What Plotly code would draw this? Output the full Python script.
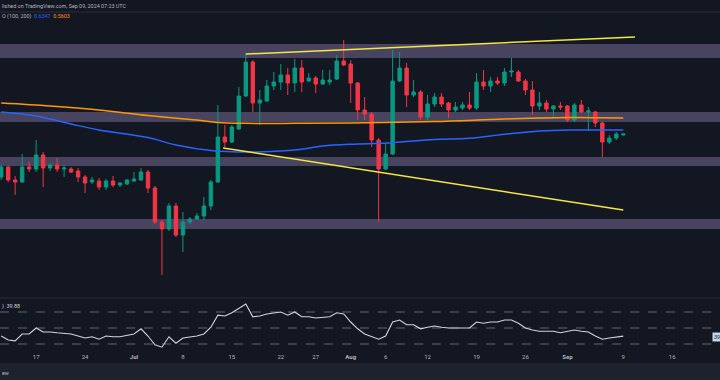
import plotly.graph_objects as go
import pandas as pd

# ---------------- data ----------------
dates = pd.date_range("2024-06-12", "2024-09-09", freq="D")

open_ = [0.4952, 0.5072, 0.4916, 0.4892, 0.5072, 0.5048, 0.5216, 0.5060, 0.5096, 0.5048,
         0.5048, 0.5024, 0.4952, 0.4892, 0.4904, 0.4832, 0.4904, 0.4856, 0.4868,
         0.4904, 0.4916, 0.5012, 0.4820, 0.4412, 0.4328, 0.4604, 0.4256, 0.4412, 0.4448,
         0.4484, 0.4604, 0.4892, 0.5432, 0.5372, 0.5528, 0.5924, 0.6332, 0.5840, 0.5864,
         0.6044, 0.6092, 0.6176, 0.6080, 0.6260, 0.6104, 0.6140, 0.6068, 0.6092, 0.6128, 0.6344,
         0.6308, 0.6080, 0.5756, 0.5708, 0.5396, 0.5048, 0.5228, 0.6104, 0.6260, 0.5936,
         0.5972, 0.5672, 0.5828, 0.5912, 0.5840, 0.5756, 0.5780, 0.5816, 0.5780, 0.6092,
         0.6044, 0.6104, 0.6080, 0.6212, 0.6212, 0.6104, 0.5996, 0.5804, 0.5840, 0.5768, 0.5804,
         0.5804, 0.5636, 0.5816, 0.5732, 0.5732, 0.5600, 0.5372, 0.5420, 0.5456]

high = [0.5096, 0.5084, 0.4964, 0.5228, 0.5132, 0.5396, 0.5252, 0.5120, 0.5180, 0.5096,
        0.5072, 0.5060, 0.4976, 0.4952, 0.4940, 0.4928, 0.4964, 0.4892, 0.4928,
        0.5012, 0.5060, 0.5036, 0.4844, 0.4436, 0.4640, 0.4640, 0.4532, 0.4472, 0.4520,
        0.4712, 0.4916, 0.5816, 0.5576, 0.5576, 0.6032, 0.6440, 0.6356, 0.5996, 0.6116,
        0.6212, 0.6308, 0.6260, 0.6368, 0.6356, 0.6200, 0.6164, 0.6236, 0.6236, 0.6416, 0.6596,
        0.6356, 0.6092, 0.5912, 0.5732, 0.5420, 0.5360, 0.6476, 0.6452, 0.6320, 0.6116,
        0.5996, 0.5936, 0.5960, 0.5960, 0.5852, 0.5852, 0.5852, 0.5972, 0.6200, 0.6236,
        0.6152, 0.6152, 0.6260, 0.6380, 0.6236, 0.6128, 0.6104, 0.5972, 0.5876, 0.5816, 0.5852,
        0.5816, 0.5840, 0.5876, 0.5792, 0.5744, 0.5612, 0.5456, 0.5492, 0.5468]

low = [0.4916, 0.4892, 0.4736, 0.4880, 0.5012, 0.5012, 0.4832, 0.5024, 0.5012, 0.4952,
       0.5000, 0.4892, 0.4760, 0.4868, 0.4796, 0.4796, 0.4832, 0.4832, 0.4856,
       0.4892, 0.4904, 0.4760, 0.4388, 0.3776, 0.4304, 0.4232, 0.4052, 0.4388, 0.4436,
       0.4436, 0.4556, 0.4880, 0.5312, 0.5360, 0.5516, 0.5912, 0.5732, 0.5576, 0.5852,
       0.5996, 0.5996, 0.5936, 0.5972, 0.5972, 0.6092, 0.5960, 0.6056, 0.6056, 0.6116, 0.6284,
       0.5840, 0.5636, 0.5636, 0.5312, 0.4412, 0.5036, 0.5216, 0.6092, 0.5792, 0.5912,
       0.5636, 0.5636, 0.5792, 0.5792, 0.5660, 0.5732, 0.5756, 0.5756, 0.5756, 0.5996,
       0.5972, 0.6056, 0.6044, 0.6152, 0.6092, 0.5936, 0.5696, 0.5756, 0.5732, 0.5660, 0.5756,
       0.5612, 0.5612, 0.5720, 0.5504, 0.5552, 0.5192, 0.5348, 0.5396, 0.5450]

close = [0.5072, 0.4916, 0.4892, 0.5072, 0.5048, 0.5216, 0.5060, 0.5096, 0.5048, 0.5060,
         0.5012, 0.4952, 0.4880, 0.4916, 0.4832, 0.4904, 0.4856, 0.4880, 0.4916,
         0.4928, 0.5012, 0.4820, 0.4412, 0.4328, 0.4604, 0.4256, 0.4412, 0.4448, 0.4484,
         0.4604, 0.4892, 0.5432, 0.5372, 0.5552, 0.5924, 0.6332, 0.5840, 0.5876, 0.6044,
         0.6092, 0.6176, 0.6080, 0.6260, 0.6092, 0.6140, 0.6068, 0.6116, 0.6116, 0.6344, 0.6296,
         0.6080, 0.5756, 0.5708, 0.5396, 0.5048, 0.5228, 0.6104, 0.6260, 0.5936, 0.5972,
         0.5672, 0.5828, 0.5912, 0.5828, 0.5756, 0.5792, 0.5816, 0.5780, 0.6092, 0.6044,
         0.6104, 0.6080, 0.6212, 0.6224, 0.6104, 0.5996, 0.5804, 0.5840, 0.5768, 0.5804, 0.5792,
         0.5636, 0.5816, 0.5732, 0.5744, 0.5600, 0.5372, 0.5420, 0.5468, 0.5468]

rsi = [40, 35, 34, 42.5, 42.5, 50, 45, 45, 44, 43, 42.5, 40, 37.5, 39, 36, 40, 39, 39, 41,
       42.5, 49, 40, 29, 26, 39, 31, 37.5, 39, 40, 42.5, 51, 66, 65, 69, 74, 80, 64, 65, 67.5,
       69, 70, 66, 70, 64, 64, 62.5, 63, 64, 69, 67.5,
       57.5, 49, 42.5, 39, 36, 40, 57.5, 60, 54, 54, 49, 51, 52.5, 51, 50, 50, 50, 50, 57.5, 56,
       57.5, 57.5, 60, 60, 56, 50, 47.5, 46, 46, 46, 44,
       46, 47.5, 46, 45, 40, 36, 37.5, 39, 39.88]

ma200_dates = ["2024-06-12", "2024-06-19", "2024-06-26", "2024-07-03", "2024-07-10", "2024-07-13",
               "2024-07-17", "2024-07-24", "2024-08-01", "2024-08-13", "2024-08-23", "2024-09-01",
               "2024-09-09"]
ma200_vals = [0.5840, 0.5804, 0.5756, 0.5690, 0.5636, 0.5606, 0.5596, 0.5596, 0.5600, 0.5618,
              0.5648, 0.5666, 0.5660]

ma100_dates = ["2024-06-12", "2024-06-17", "2024-06-22", "2024-06-26", "2024-07-03", "2024-07-07",
               "2024-07-12", "2024-07-17", "2024-07-24", "2024-07-28", "2024-08-02", "2024-08-07",
               "2024-08-13", "2024-08-18", "2024-08-23", "2024-08-28", "2024-09-02", "2024-09-09"]
ma100_vals = [0.5732, 0.5684, 0.5588, 0.5516, 0.5426, 0.5336, 0.5270, 0.5252, 0.5276, 0.5324,
              0.5348, 0.5364, 0.5402, 0.5416, 0.5464, 0.5504, 0.5516, 0.5516]

upper_trend_dates = ["2024-07-17 00:00", "2024-09-10 16:00"]
upper_trend_vals = [0.6428, 0.6632]
lower_trend_dates = ["2024-07-13 18:00", "2024-09-09 00:00"]
lower_trend_vals = [0.5300, 0.4556]

zones = [(0.6380, 0.6548), (0.5612, 0.5732), (0.5084, 0.5192), (0.4328, 0.4448)]

tick_dates = ["2024-06-17", "2024-06-24", "2024-07-01", "2024-07-08", "2024-07-15", "2024-07-22",
              "2024-07-27", "2024-08-01", "2024-08-06", "2024-08-12", "2024-08-19", "2024-08-26",
              "2024-09-01", "2024-09-09", "2024-09-16"]
tick_text = ["17", "24", "<b>Jul</b>", "8", "15", "22", "27", "<b>Aug</b>", "6", "12", "19", "26",
             "<b>Sep</b>", "9", "16"]

# ---------------- styling ----------------
BG = "#131722"
TEAL = "#089981"
RED = "#f23645"
ZONE = "#48435f"
GRID_LINE = "#2a2e39"
FONT = "Roboto"

fig = go.Figure()

fig.add_trace(go.Candlestick(
    x=dates, open=open_, high=high, low=low, close=close,
    increasing=dict(line=dict(color=TEAL, width=1), fillcolor=TEAL),
    decreasing=dict(line=dict(color=RED, width=1), fillcolor=RED),
    whiskerwidth=0, showlegend=False, hoverinfo="skip", xaxis="x", yaxis="y"))

fig.add_trace(go.Scatter(x=ma200_dates, y=ma200_vals, mode="lines",
                         line=dict(color="#ff9800", width=1.5, shape="spline"),
                         showlegend=False, hoverinfo="skip", xaxis="x", yaxis="y"))
fig.add_trace(go.Scatter(x=ma100_dates, y=ma100_vals, mode="lines",
                         line=dict(color="#2962ff", width=1.5, shape="spline"),
                         showlegend=False, hoverinfo="skip", xaxis="x", yaxis="y"))
fig.add_trace(go.Scatter(x=upper_trend_dates, y=upper_trend_vals, mode="lines",
                         line=dict(color="#f5e642", width=1.5),
                         showlegend=False, hoverinfo="skip", xaxis="x", yaxis="y"))
fig.add_trace(go.Scatter(x=lower_trend_dates, y=lower_trend_vals, mode="lines",
                         line=dict(color="#f5e642", width=1.5),
                         showlegend=False, hoverinfo="skip", xaxis="x", yaxis="y"))

fig.add_trace(go.Scatter(x=dates, y=rsi, mode="lines",
                         line=dict(color="#d1d4dc", width=1.1),
                         showlegend=False, hoverinfo="skip", xaxis="x", yaxis="y2"))

shapes = []
for lo, hi in zones:
    shapes.append(dict(type="rect", xref="paper", yref="y", x0=0, x1=1, y0=lo, y1=hi,
                       fillcolor=ZONE, line=dict(width=0), layer="below"))
for lvl in (70, 50, 30):
    shapes.append(dict(type="line", xref="paper", yref="y2", x0=0, x1=1, y0=lvl, y1=lvl,
                       line=dict(color="#787b86", width=0.8, dash="dash"), layer="below"))

# pane separators and bottom strip (plot area spans px 12..352)
H = 340.0
def py(px):
    return (352 - px) / H

shapes.append(dict(type="line", xref="paper", yref="paper", x0=0, x1=1, y0=py(298), y1=py(298),
                   line=dict(color=GRID_LINE, width=1)))
shapes.append(dict(type="line", xref="paper", yref="paper", x0=0, x1=1, y0=py(12), y1=py(12),
                   line=dict(color=GRID_LINE, width=1)))
shapes.append(dict(type="rect", xref="paper", yref="paper", x0=0, x1=1, y0=py(380), y1=py(363),
                   fillcolor="#1e222d", line=dict(width=0)))

annotations = [
    dict(xref="paper", yref="paper", x=0, y=py(6), xanchor="left", yanchor="middle",
         text="lished on TradingView.com, Sep 09, 2024 07:23 UTC", showarrow=False,
         font=dict(family=FONT, size=5.4, color="#b2b5be")),
    dict(xref="paper", yref="paper", x=0, y=py(17), xanchor="left", yanchor="middle",
         text="O (100, 200)  <span style='color:#2962ff'>0.6347</span>  "
              "<span style='color:#ff9800'>0.5603</span>",
         showarrow=False, font=dict(family=FONT, size=5.4, color="#b2b5be")),
    dict(xref="paper", yref="paper", x=0, y=py(306), xanchor="left", yanchor="middle",
         text=")  39.88", showarrow=False, font=dict(family=FONT, size=5.4, color="#d1d4dc")),
    dict(xref="paper", yref="paper", x=0, y=py(373), xanchor="left", yanchor="middle",
         text="ew", showarrow=False, font=dict(family=FONT, size=5.4, color="#b2b5be")),
    dict(xref="paper", yref="paper", x=712 / 720, y=py(336.5), xanchor="left", yanchor="middle",
         text="39.88", showarrow=False, bgcolor="#c9d3e6", borderpad=1,
         font=dict(family=FONT, size=5.4, color="#131722")),
    dict(xref="paper", yref="paper", x=723.5 / 720, y=py(359), xanchor="center", yanchor="middle",
         text="23", showarrow=False, font=dict(family=FONT, size=6, color="#b2b5be")),
]

fig.update_layout(
    width=720, height=380,
    margin=dict(l=0, r=0, t=12, b=28),
    paper_bgcolor=BG, plot_bgcolor=BG,
    showlegend=False,
    shapes=shapes, annotations=annotations,
    xaxis=dict(type="date", range=["2024-06-11 19:55", "2024-09-22 20:00"],
               anchor="y2", rangeslider=dict(visible=False),
               showgrid=False, zeroline=False, showline=False, ticks="",
               tickvals=tick_dates, ticktext=tick_text,
               tickfont=dict(family=FONT, size=6, color="#b2b5be")),
    yaxis=dict(domain=[py(298), 1], range=[0.35, 0.6932], showgrid=False, zeroline=False,
               showticklabels=False, showline=False, fixedrange=True),
    yaxis2=dict(domain=[0, py(298)], range=[20, 87.5], showgrid=False, zeroline=False,
                showticklabels=False, showline=False, fixedrange=True),
    font=dict(family=FONT),
)

fig.write_html("out.html", config={"displayModeBar": False},
               post_script="document.body.style.margin='0';document.body.style.overflow='hidden';")
